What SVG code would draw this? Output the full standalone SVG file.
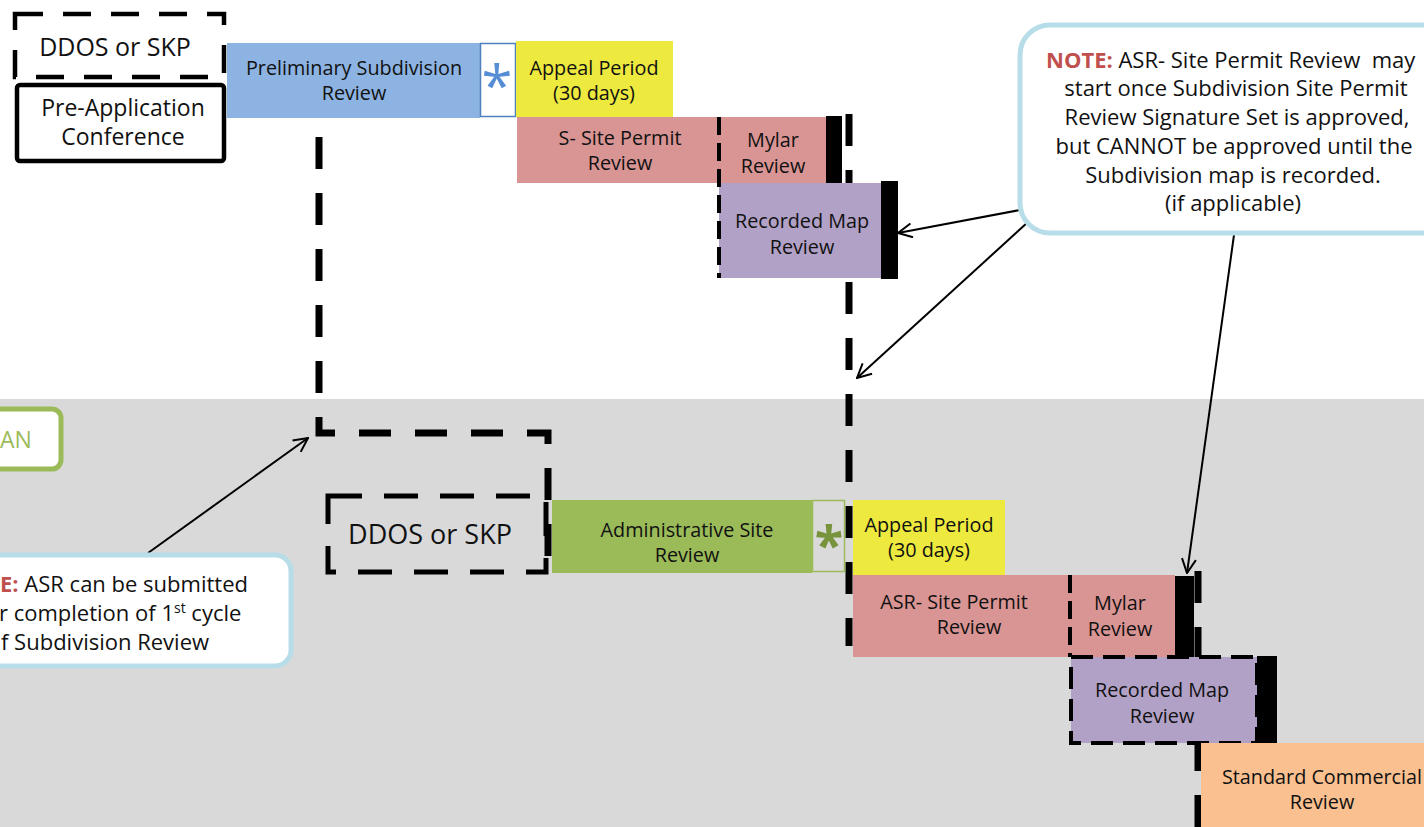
<svg xmlns="http://www.w3.org/2000/svg" width="1424" height="827" viewBox="0 0 1424 827">
<style>
text{font-family:"Open Sans","Noto Sans","Liberation Sans",sans-serif;fill:#111;}
.n{font-size:19.8px;text-anchor:middle;}
.big{font-size:23px;text-anchor:middle;}
.note{font-size:22px;}
.red{fill:#c0504d;font-weight:bold;}
.dash7{fill:none;stroke:#000;stroke-width:7;stroke-dasharray:32 24;}
.dash4{fill:none;stroke:#000;stroke-width:4;stroke-dasharray:18 8;}
.bar{fill:#000;}
.arr{fill:none;stroke:#000;stroke-width:2;marker-end:url(#ah);}
.callout{fill:#fff;stroke:#b7dde8;stroke-width:5;}
</style>
<defs>
<marker id="ah" markerUnits="userSpaceOnUse" viewBox="0 0 16 16" markerWidth="16" markerHeight="16" refX="15" refY="8" orient="auto">
<path d="M1,1 L15,8 L1,15" fill="none" stroke="#000" stroke-width="2"/>
</marker>
</defs>
<rect x="0" y="0" width="1424" height="827" fill="#fff"/>
<rect x="0" y="399" width="1424" height="428" fill="#d9d9d9"/>

<g id="connectors">
<path class="dash7" d="M319,118 V433 H548 V572" stroke-dashoffset="37"/>
<line class="dash7" x1="849" y1="114" x2="849" y2="646"/>
<line class="dash7" x1="1198" y1="571" x2="1198" y2="827"/>
<line class="arr" x1="1020" y1="210" x2="898" y2="233"/>
<line class="arr" x1="1028" y1="222" x2="857" y2="378"/>
<line class="arr" x1="1234" y1="235" x2="1187" y2="573"/>
<line class="arr" x1="148" y1="553" x2="308" y2="438"/>
</g>

<g id="ddos-top">
<rect x="15" y="14" width="209" height="63" fill="#fff" stroke="#000" stroke-width="4.5" stroke-dasharray="28 20"/>
<text class="big" x="115" y="56" style="font-size:25px">DDOS or SKP</text>
</g>
<g id="pre-app">
<rect x="17" y="85" width="207" height="76" rx="3" fill="#fff" stroke="#000" stroke-width="4.5"/>
<text class="big" x="123" y="116">Pre-Application</text>
<text class="big" x="123" y="145">Conference</text>
</g>
<g id="prelim-sub">
<rect x="227" y="43" width="253" height="75" fill="#8db3e2"/>
<text class="n" x="354" y="75">Preliminary Subdivision</text>
<text class="n" x="354" y="100">Review</text>
</g>
<g id="asterisk-top">
<rect x="480.5" y="43.5" width="35" height="73" fill="#fff" stroke="#4f81bd" stroke-width="1.5"/>
<text x="497" y="106" style="font-size:56px;text-anchor:middle;fill:#558ed5">*</text>
</g>
<g id="appeal-top">
<rect x="516" y="41" width="157" height="76" fill="#ede93e"/>
<text class="n" x="594" y="75">Appeal Period</text>
<text class="n" x="594" y="100">(30 days)</text>
</g>
<g id="s-site-permit">
<rect x="517" y="117" width="311" height="66" fill="#d99594"/>
<text class="n" x="620" y="145">S- Site Permit</text>
<text class="n" x="620" y="170">Review</text>
</g>
<g id="mylar-top">
<text class="n" x="773" y="147">Mylar</text>
<text class="n" x="773" y="173">Review</text>
<rect class="bar" x="826" y="116" width="16" height="67"/>
</g>
<g id="recorded-map-top">
<rect x="719" y="183" width="162" height="95" fill="#b2a1c7"/>
<text class="n" x="802" y="228">Recorded Map</text>
<text class="n" x="802" y="254">Review</text>
<rect class="bar" x="881" y="181" width="17" height="98"/>
<line class="dash4" x1="719" y1="117" x2="719" y2="278"/>
</g>

<g id="note-top">
<rect class="callout" x="1020" y="25" width="450" height="208" rx="30"/>
<text class="note" x="1046" y="68"><tspan class="red">NOTE:</tspan> ASR- Site Permit Review&#160; may</text>
<text class="note" x="1236" y="96" text-anchor="middle">start once Subdivision Site Permit</text>
<text class="note" x="1237" y="125" text-anchor="middle">Review Signature Set is approved,</text>
<text class="note" x="1234" y="154" text-anchor="middle">but CANNOT be approved until the</text>
<text class="note" x="1233" y="183" text-anchor="middle">Subdivision map is recorded.</text>
<text class="note" x="1233" y="211" text-anchor="middle">(if applicable)</text>
</g>

<g id="an-box">
<rect x="-20" y="409" width="81" height="60" rx="9" fill="#fff" stroke="#9bbb59" stroke-width="5"/>
<text x="0" y="448" style="font-size:23px;fill:#9bbb59">AN</text>
</g>

<g id="note-bottom">
<rect class="callout" x="-20" y="555" width="311" height="111" rx="16"/>
<text class="note" x="0" y="592"><tspan class="red">E:</tspan> ASR can be submitted</text>
<text class="note" x="-1" y="621">r completion of 1<tspan dy="-8" style="font-size:14px">st</tspan><tspan dy="8"> cycle</tspan></text>
<text class="note" x="1" y="650">f Subdivision Review</text>
</g>

<g id="ddos-bottom">
<rect x="328" y="496" width="218" height="76" fill="none" stroke="#000" stroke-width="5" stroke-dasharray="34 22"/>
<text class="big" x="430" y="544" style="font-size:27px">DDOS or SKP</text>
</g>
<g id="asr">
<rect x="552" y="500" width="260" height="73" fill="#9bbb59"/>
<text class="n" x="687" y="537">Administrative Site</text>
<text class="n" x="687" y="562">Review</text>
</g>
<g id="asterisk-bottom">
<rect x="812.5" y="500.5" width="32" height="71" fill="#dadada" stroke="#9bbb59" stroke-width="1.5"/>
<text x="829" y="564" style="font-size:52px;text-anchor:middle;fill:#77933c;font-weight:bold">*</text>
</g>
<g id="appeal-bottom">
<rect x="853" y="500" width="152" height="75" fill="#ede93e"/>
<text class="n" x="929" y="532">Appeal Period</text>
<text class="n" x="929" y="557">(30 days)</text>
</g>
<g id="asr-site-permit">
<rect x="853" y="575" width="322" height="82" fill="#d99594"/>
<text class="n" x="954" y="609">ASR- Site Permit</text>
<text class="n" x="969" y="634">Review</text>
<line class="dash4" x1="1070" y1="575" x2="1070" y2="657"/>
</g>
<g id="mylar-bottom">
<text class="n" x="1120" y="610">Mylar</text>
<text class="n" x="1120" y="636">Review</text>
<rect class="bar" x="1175" y="576" width="19" height="81"/>
</g>
<g id="recorded-map-bottom">
<rect x="1071" y="657" width="186" height="86" fill="#b2a1c7" stroke="#000" stroke-width="4" stroke-dasharray="22 10"/>
<text class="n" x="1162" y="697">Recorded Map</text>
<text class="n" x="1162" y="723">Review</text>
<rect class="bar" x="1257" y="656" width="20" height="87"/>
</g>
<g id="standard-commercial">
<rect x="1201" y="743" width="223" height="84" fill="#fac090"/>
<text class="n" x="1322" y="784">Standard Commercial</text>
<text class="n" x="1322" y="809">Review</text>
</g>
</svg>
